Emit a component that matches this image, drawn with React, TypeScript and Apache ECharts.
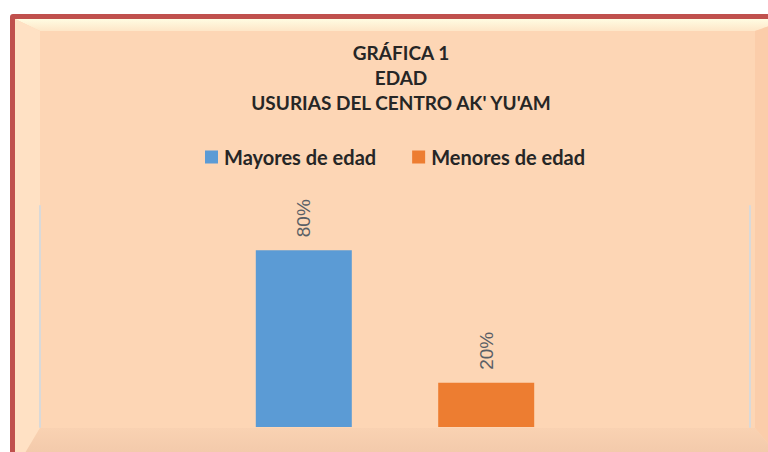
import React, { useEffect, useRef } from "react";
import * as echarts from "echarts";

const categories = ["Edad"];
const seriesNames = ["Mayores de edad", "Menores de edad"];
const mayoresValues = [80];
const menoresValues = [20];
const seriesColors = ["#5B9BD5", "#ED7D31"];
const titleLines = ["GRÁFICA 1", "EDAD", "USURIAS DEL CENTRO AK' YU'AM"];

export default function App() {
  const ref = useRef<HTMLDivElement>(null);
  useEffect(() => {
    if (!ref.current) return;
    const chart = echarts.init(ref.current, null, { renderer: "svg" });
    const labelCfg = {
      show: true,
      position: "top",
      rotate: 90,
      align: "left",
      verticalAlign: "middle",
      distance: 13,
      fontFamily: "Liberation Sans",
      fontSize: 19,
      color: "#5a5f66",
      formatter: (p: any) => p.value + "%",
    };
    chart.setOption({
      animation: false,
      backgroundColor: "#ffffff",
      graphic: [
        { type: "rect", shape: { x: 10, y: 14, width: 800, height: 500, r: 3 }, style: { fill: "#C0504D" }, z: -10 },
        { type: "rect", shape: { x: 15, y: 19, width: 790, height: 480 }, style: { fill: "#FDD6B5" }, z: -9 },
        {
          type: "polygon",
          shape: { points: [[15, 19], [790, 19], [755, 31], [40, 31]] },
          style: {
            fill: new echarts.graphic.LinearGradient(0, 0, 0, 1, [
              { offset: 0, color: "#FFFCE2" },
              { offset: 1, color: "#FEE6C8" },
            ]),
          },
          z: -8,
        },
        {
          type: "polygon",
          shape: { points: [[15, 19], [40, 31], [40, 428], [15, 470]] },
          style: { fill: "#FFE1C4" },
          z: -8,
        },
        {
          type: "polygon",
          shape: { points: [[755, 31], [790, 19], [790, 470], [755, 428]] },
          style: { fill: "#FBCDAA" },
          z: -8,
        },
        {
          type: "polygon",
          shape: { points: [[40, 428], [755, 428], [790, 470], [15, 470]] },
          style: {
            fill: new echarts.graphic.LinearGradient(0, 0, 0, 1, [
              { offset: 0, color: "#F9D2B2" },
              { offset: 1, color: "#EFC4A6" },
            ]),
          },
          z: -8,
        },
      ],
      title: {
        text: titleLines.join("\n"),
        left: 396,
        textAlign: "center",
        top: 35,
        textStyle: {
          fontFamily: "Lato",
          fontWeight: "bold",
          fontSize: 19,
          lineHeight: 25,
          color: "#262626",
        },
      },
      legend: {
        data: seriesNames,
        top: 142,
        left: 200,
        itemWidth: 13,
        itemHeight: 13,
        itemGap: 36,
        icon: "rect",
        textStyle: { fontFamily: "Lato", fontWeight: "bold", fontSize: 20, color: "#262626", padding: [0, 0, 0, 1] },
      },
      grid: { left: 40, right: 18, top: 206, bottom: 25 },
      xAxis: {
        type: "category",
        data: categories,
        axisLine: { show: false },
        axisTick: { show: false },
        axisLabel: { show: false },
      },
      yAxis: [
        {
          type: "value",
          min: 0,
          max: 100,
          axisLine: { show: true, lineStyle: { color: "#D9D9D9", width: 2 } },
          axisLabel: { show: false },
          axisTick: { show: false },
          splitLine: { show: false },
        },
        {
          type: "value",
          position: "right",
          min: 0,
          max: 100,
          axisLine: { show: true, lineStyle: { color: "#D9D9D9", width: 2 } },
          axisLabel: { show: false },
          axisTick: { show: false },
          splitLine: { show: false },
        },
      ],
      series: [
        {
          name: seriesNames[0],
          type: "bar",
          data: mayoresValues,
          barWidth: 96,
          barGap: "90%",
          itemStyle: { color: seriesColors[0] },
          label: labelCfg,
        },
        {
          name: seriesNames[1],
          type: "bar",
          data: menoresValues,
          barWidth: 96,
          barGap: "90%",
          itemStyle: { color: seriesColors[1] },
          label: labelCfg,
        },
      ],
    });
    return () => chart.dispose();
  }, []);
  return (
    <div
      ref={ref}
      style={{ position: "fixed", left: 0, top: 0, width: 768, height: 452 }}
    />
  );
}
